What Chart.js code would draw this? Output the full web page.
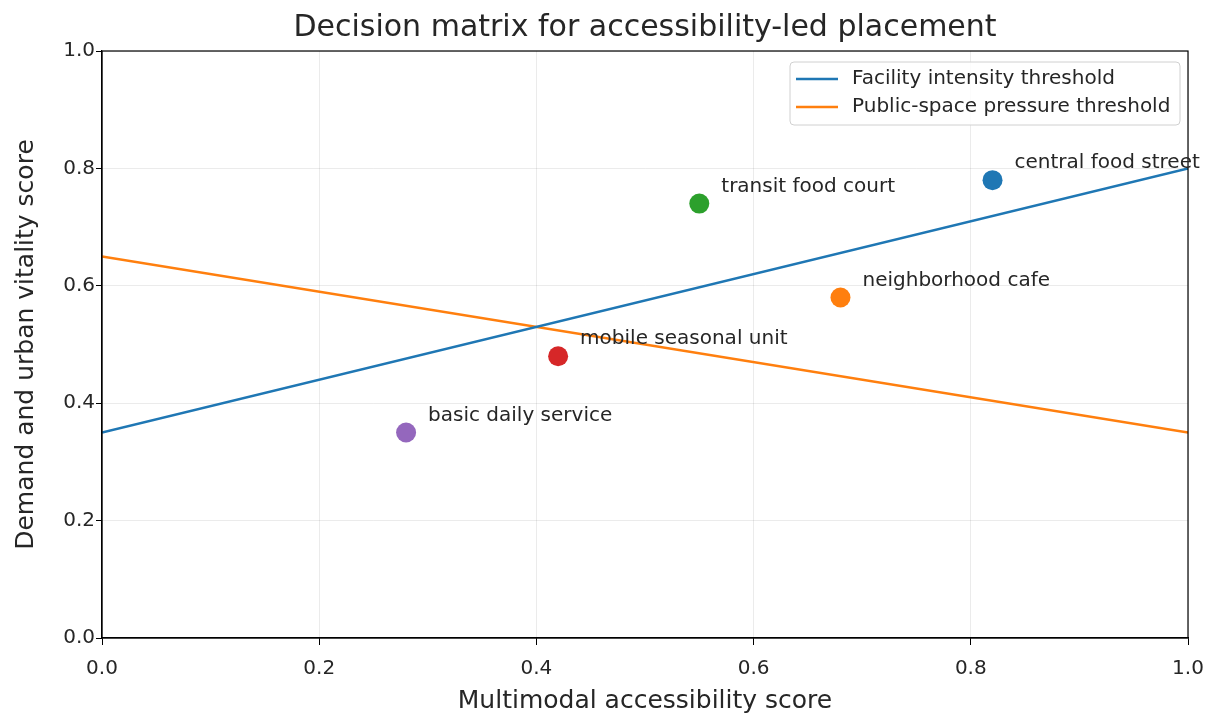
<!DOCTYPE html>
<html>
<head>
<meta charset="utf-8">
<script src="https://cdn.jsdelivr.net/npm/chart.js@4.4.1/dist/chart.umd.min.js"></script>
<style>
  html, body { margin: 0; padding: 0; background: #fff; }
  canvas { display: block; }
</style>
</head>
<body>
<canvas id="matrixChart" width="1221" height="717"></canvas>
<script>
// Sites placed on the accessibility / vitality plane
const siteNames = ['central food street', 'transit food court', 'neighborhood cafe', 'mobile seasonal unit', 'basic daily service'];
const accessScore = [0.82, 0.55, 0.68, 0.42, 0.28];
const vitalityScore = [0.78, 0.74, 0.58, 0.48, 0.35];
const siteColors = ['#1f77b4', '#2ca02c', '#ff7f0e', '#d62728', '#9467bd'];

// Threshold lines (value at x = 0 and x = 1)
const thresholdX = [0, 1];
const facilityThreshold = [0.35, 0.80];
const pressureThreshold = [0.65, 0.35];

const axisTicks = [0, 0.2, 0.4, 0.6, 0.8, 1.0];

const FONT = 'DejaVu Sans, sans-serif';
const TEXT = '#262626';

function toPoints(xs, ys) {
    return xs.map((x, i) => ({ x: x, y: ys[i] }));
}

// title, box border, point labels and legend
const decorPlugin = {
    id: 'decor',
    afterDraw(chart) {
        const ctx = chart.ctx;
        const area = chart.chartArea;
        const xs = chart.scales.x;
        const ys = chart.scales.y;
        ctx.save();

        // full frame like matplotlib
        ctx.strokeStyle = '#000';
        ctx.lineWidth = 1.2;
        ctx.strokeRect(area.left, area.top, area.right - area.left, area.bottom - area.top);

        // title
        ctx.fillStyle = TEXT;
        ctx.font = '30px ' + FONT;
        ctx.textAlign = 'center';
        ctx.textBaseline = 'alphabetic';
        ctx.fillText('Decision matrix for accessibility-led placement', (area.left + area.right) / 2, 36);

        // labels next to each site
        ctx.font = '20px ' + FONT;
        ctx.textAlign = 'left';
        siteNames.forEach((name, i) => {
            const px = xs.getPixelForValue(accessScore[i]);
            const py = ys.getPixelForValue(vitalityScore[i]);
            ctx.fillText(name, px + 22, py - 12);
        });

        // legend box
        const lx = 790, ly = 62, lw = 390, lh = 63;
        ctx.fillStyle = 'rgba(255,255,255,0.85)';
        ctx.strokeStyle = '#d0d0d0';
        ctx.lineWidth = 1;
        ctx.beginPath();
        ctx.roundRect(lx, ly, lw, lh, 4);
        ctx.fill();
        ctx.stroke();
        const items = [
            { label: 'Facility intensity threshold', color: '#1f77b4', y: 79 },
            { label: 'Public-space pressure threshold', color: '#ff7f0e', y: 107 }
        ];
        ctx.textBaseline = 'middle';
        items.forEach(it => {
            ctx.strokeStyle = it.color;
            ctx.lineWidth = 2.5;
            ctx.beginPath();
            ctx.moveTo(796, it.y);
            ctx.lineTo(838, it.y);
            ctx.stroke();
            ctx.fillStyle = TEXT;
            ctx.fillText(it.label, 852, it.y);
        });

        ctx.restore();
    }
};

const tickFont = { family: FONT, size: 20 };
const titleFont = { family: FONT, size: 25 };

new Chart(document.getElementById('matrixChart'), {
    type: 'scatter',
    data: {
        datasets: [
            {
                label: 'Facility intensity threshold',
                type: 'line',
                data: toPoints(thresholdX, facilityThreshold),
                borderColor: '#1f77b4',
                borderWidth: 2.5,
                pointRadius: 0,
                fill: false
            },
            {
                label: 'Public-space pressure threshold',
                type: 'line',
                data: toPoints(thresholdX, pressureThreshold),
                borderColor: '#ff7f0e',
                borderWidth: 2.5,
                pointRadius: 0,
                fill: false
            },
            {
                label: 'sites',
                data: toPoints(accessScore, vitalityScore),
                backgroundColor: siteColors,
                borderColor: siteColors,
                borderWidth: 0,
                pointRadius: 10,
                pointHoverRadius: 10
            }
        ]
    },
    options: {
        responsive: false,
        animation: false,
        devicePixelRatio: 1,
        layout: { padding: { top: 51, right: 33, left: 0, bottom: 0 } },
        plugins: {
            legend: { display: false },
            tooltip: { enabled: false }
        },
        scales: {
            x: {
                type: 'linear',
                min: 0,
                max: 1,
                afterBuildTicks: scale => { scale.ticks = axisTicks.map(v => ({ value: v })); },
                afterFit: scale => { scale.height = 79; },
                ticks: {
                    font: tickFont,
                    color: TEXT,
                    padding: 12,
                    callback: v => Number(v).toFixed(1)
                },
                grid: { color: 'rgba(0,0,0,0.08)', tickColor: '#000', tickLength: 7 },
                border: { color: '#000', width: 1.2 },
                title: { display: true, text: 'Multimodal accessibility score', font: titleFont, color: TEXT, padding: { top: 2, bottom: 1 } }
            },
            y: {
                type: 'linear',
                min: 0,
                max: 1,
                afterBuildTicks: scale => { scale.ticks = axisTicks.map(v => ({ value: v })); },
                afterFit: scale => { scale.width = 102; },
                ticks: {
                    font: tickFont,
                    color: TEXT,
                    padding: 1,
                    callback: v => Number(v).toFixed(1)
                },
                grid: { color: 'rgba(0,0,0,0.08)', tickColor: '#000', tickLength: 6 },
                border: { color: '#000', width: 1.2 },
                title: { display: true, text: 'Demand and urban vitality score', font: titleFont, color: TEXT, padding: { top: 11, bottom: 4 } }
            }
        }
    },
    plugins: [decorPlugin]
});
</script>
</body>
</html>
